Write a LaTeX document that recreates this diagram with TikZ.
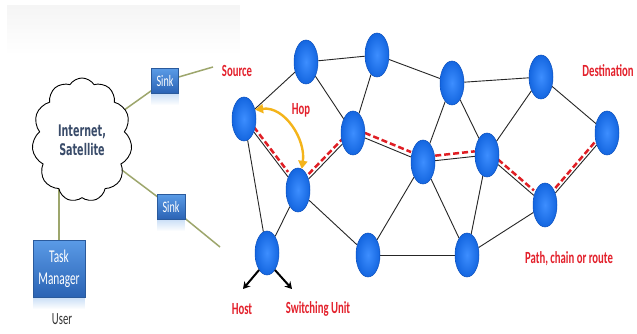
\documentclass[tikz,border=0pt]{standalone}
\usepackage{fontspec}
\usetikzlibrary{shapes.geometric,shapes.symbols,arrows.meta,backgrounds}
\newfontfamily\lblfont[FakeStretch=0.63]{Carlito}
\newfontfamily\cloudfont[FakeStretch=0.6]{DejaVu Sans}
\definecolor{nodeblue}{HTML}{1466E0}
\definecolor{nodelight}{HTML}{3D8EFF}
\definecolor{nodeedge}{HTML}{0E52BE}
\definecolor{boxtop}{HTML}{5A9BE6}
\definecolor{boxbot}{HTML}{2A62B4}
\definecolor{boxedge}{HTML}{2A5A9C}
\definecolor{labelred}{HTML}{E3202B}
\definecolor{routered}{HTML}{E01E24}
\definecolor{hopgold}{HTML}{F4B41A}
\definecolor{feedolive}{HTML}{9DA66C}
\definecolor{cloudtext}{HTML}{3A4C6A}

\tikzset{
  host/.style={ellipse, minimum width=24pt, minimum height=44pt, inner sep=0pt,
    draw=nodeedge, line width=0.5pt, inner color=nodelight, outer color=nodeblue},
  link/.style={draw=black!85, line width=0.9pt},
  route/.style={draw=routered, line width=2.5pt, dash pattern=on 6pt off 3pt},
  feed/.style={draw=feedolive, line width=1.5pt},
  boxnode/.style={rectangle, top color=boxtop, bottom color=boxbot, draw=boxedge,
    line width=0.4pt, text=white, inner sep=1pt},
  redlbl/.style={text=labelred, font=\lblfont\bfseries\fontsize{17}{17}\selectfont},
  hoparr/.style={draw=hopgold, line width=2.4pt,
    arrows={Triangle[length=8pt,width=9pt]-Triangle[length=8pt,width=9pt]}},
  rolearr/.style={draw=black, line width=2pt, -{Stealth[length=7pt,width=8pt]}}
}

\begin{document}
\begin{tikzpicture}[x=1pt,y=-1pt]
\useasboundingbox (0,0) rectangle (637,334);

% left side: cloud, sinks and user
\node[cloud, cloud puffs=11, cloud puff arc=115, cloud ignores aspect,
  minimum width=100pt, minimum height=124pt, draw=black, line width=0.9pt, fill=white,
  align=center, text=cloudtext, font=\cloudfont\bfseries\fontsize{16}{19}\selectfont]
  (cloud) at (82,140) {Internet,\\Satellite};
\node[boxnode, minimum width=27pt, minimum height=25pt,
  font=\lblfont\fontsize{16}{16}\selectfont] (sinkA) at (165,81) {Sink};
\node[boxnode, minimum width=28pt, minimum height=25pt,
  font=\lblfont\fontsize{16}{16}\selectfont] (sinkB) at (171,207) {Sink};
\node[boxnode, minimum width=52pt, minimum height=57pt, align=center,
  font=\lblfont\fontsize{18}{22}\selectfont] (task) at (59,269) {Task\\Manager};
\node[text=black!80, font=\lblfont\fontsize{17}{17}\selectfont] (user) at (62,319) {User};

% reflections, faded strip by strip
\foreach \b in {sinkA,sinkB,task}{
  \foreach \i [evaluate = \i as \op using {0.3*(1-\i/11)}] in {0,...,10}{
    \fill[boxtop, opacity=\op] ([yshift=-\i pt]\b.south west) rectangle ([yshift=-\i pt-1pt]\b.south east);
  }
}

\coordinate (srcend) at (213,67);
\coordinate (pathend) at (220,247);

% network
\foreach \n/\x/\y in {src/244/119, t1/306/62, t2/377/55, t3/452/83, t4/541/77,
  dst/607/133, m1/353/133, m2/423/162, m3/487/155, m4/545/205,
  hp/298/190, sw/267/253, b1/368/255, b2/467/255}{
  \node[host] (\n) at (\x,\y) {};
}

\begin{pgfonlayer}{background}
\fill[white] (0,0) rectangle (637,334);
\foreach \i [evaluate = \i as \op using {0.04*(1-\i/50)}] in {0,2,...,48}{
  \fill[black, opacity=\op] (7,5+\i) rectangle (240,7+\i);
}
\draw[feed] (cloud.center) -- (sinkA.center) -- (srcend);
\draw[feed] (cloud.center) -- (sinkB.center) -- (pathend);
\draw[feed] (task.north) -- (task.north |- cloud.center);
\foreach \a/\b in {src/t1, t1/t2, t1/m1, t2/m1, t2/t3, t3/t4, t3/m2, t3/m3, t4/m3,
  t4/dst, src/hp, hp/m1, m1/m2, m2/m3, m3/m4, m4/dst, src/sw, hp/sw, hp/b1,
  m2/b1, m2/b2, m3/b2, b1/b2, b2/m4}{
  \draw[link] (\a) -- (\b);
}
\draw[route, transform canvas={yshift=5pt}] (src) -- (hp) -- (m1) -- (m2) -- (m3) -- (m4) -- (dst);
\end{pgfonlayer}

\draw[hoparr] (src.40) .. controls (285,106) and (306,140) .. (hp.80);
\coordinate (hostend) at (243,289);
\coordinate (swend) at (292,289);
\draw[rolearr] (sw.245) -- (hostend);
\draw[rolearr] (sw.295) -- (swend);

\node[redlbl] (srclbl) at (237,71) {Source};
\node[redlbl] (hoplbl) at (301,110) {Hop};
\node[redlbl] (dstlbl) at (608,71) {Destination};
\node[redlbl] (pathlbl) at (569,259) {Path, chain or route};
\node[redlbl] (hostlbl) at (242,309) {Host};
\node[redlbl] (swlbl) at (318,309) {Switching Unit};
\end{tikzpicture}
\end{document}
